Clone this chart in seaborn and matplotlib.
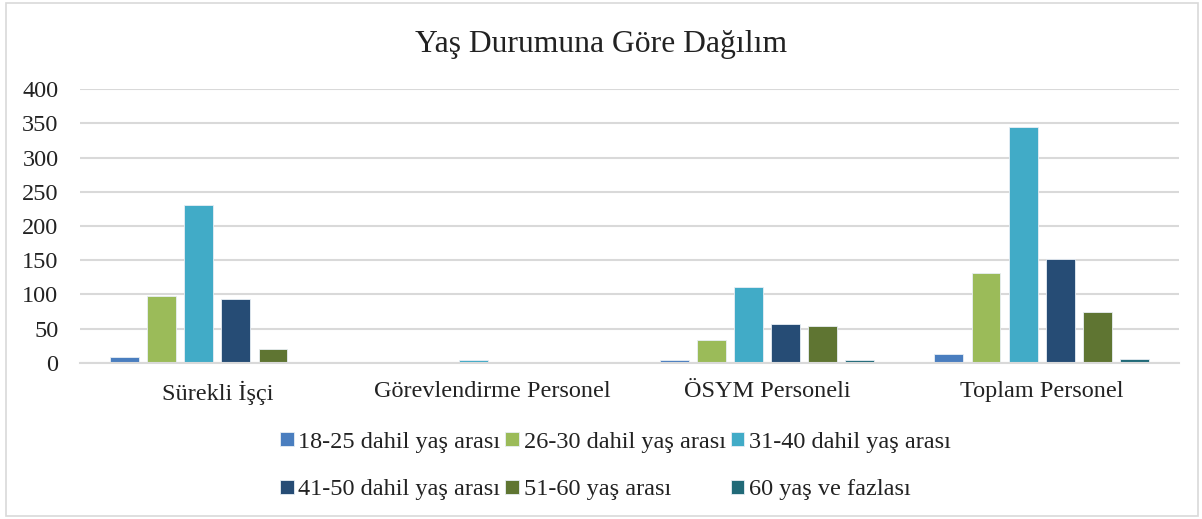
import pandas as pd
import matplotlib.pyplot as plt
import seaborn as sns
from matplotlib.patches import Rectangle

groups = ["Sürekli İşçi", "Görevlendirme Personel", "ÖSYM Personeli", "Toplam Personel"]
age_bands = ["18-25 dahil yaş arası", "26-30 dahil yaş arası", "31-40 dahil yaş arası",
             "41-50 dahil yaş arası", "51-60 yaş arası", "60 yaş ve fazlası"]
surekli = [9, 98, 230, 94, 20, 0]
gorevlendirme = [0, 0, 4, 1, 1, 1]
osym = [4, 34, 111, 57, 54, 5]
toplam = [13, 132, 345, 152, 75, 6]
colors = ["#4A7EBF", "#9BBB59", "#41ABC7", "#264C75", "#5F7532", "#216A78"]

rows = []
for g, vals in zip(groups, [surekli, gorevlendirme, osym, toplam]):
    for band, v in zip(age_bands, vals):
        rows.append({"grup": g, "yas": band, "sayi": v})
df = pd.DataFrame(rows)

sns.set_style("white")
plt.rcParams["font.family"] = ["Liberation Serif", "DejaVu Serif"]

fig = plt.figure(figsize=(12.02, 5.19), dpi=100)
fig.patches.append(Rectangle((6 / 1202, 3 / 519), 1192 / 1202, 513 / 519, transform=fig.transFigure,
                             fill=False, edgecolor="#D9D9D9", linewidth=1.2))
ax = fig.add_axes([80 / 1202, 0.3006, 1099 / 1202, 0.5279])

sns.barplot(data=df, x="grup", y="sayi", hue="yas", order=groups, hue_order=age_bands,
            palette=colors, saturation=1, gap=0.22, width=0.81, edgecolor="#E8EEF4", linewidth=0.6,
            ax=ax, legend=True)

ax.set_ylim(0, 400)
ax.set_yticks(range(0, 401, 50))
ax.yaxis.grid(True, color="#D9D9D9", linewidth=1.5)
ax.set_axisbelow(True)
for s in ["top", "right", "left"]:
    ax.spines[s].set_visible(False)
ax.spines["bottom"].set_color("#D9D9D9")
ax.spines["bottom"].set_linewidth(1.5)
ax.tick_params(axis="y", length=0, pad=15.5, labelsize=17.5, labelcolor="#222222")
ax.tick_params(axis="x", length=0, pad=13, labelsize=17.5, labelcolor="#222222")
ax.set_xlabel("")
ax.set_ylabel("")

fig.text(0.5, 0.915, "Yaş Durumuna Göre Dağılım", ha="center", va="center", fontsize=22.8,
         color="#222222")

handles, labels = ax.get_legend_handles_labels()
ax.get_legend().remove()
order = [0, 3, 1, 4, 2, 5]
fig.legend([handles[i] for i in order], [labels[i] for i in order], ncol=3,
           loc="center", bbox_to_anchor=(0.512, 0.102), frameon=False, fontsize=17.5,
           labelcolor="#222222",
           handlelength=0.55, handleheight=0.55, handletextpad=0.2, columnspacing=0.2,
           labelspacing=1.1)

fig.savefig("out.png", dpi=100)
